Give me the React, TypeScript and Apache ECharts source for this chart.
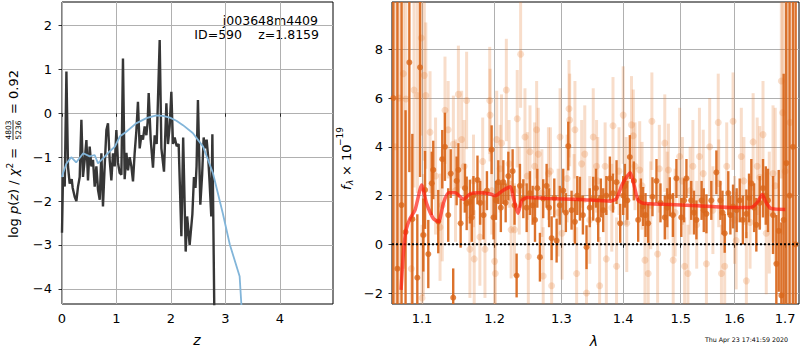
import React, { useEffect, useRef } from 'react';
import * as echarts from 'echarts';

// ---------- tick labels ----------
const zTicks = [0, 1, 2, 3, 4];
const logpTicks = [-4, -3, -2, -1, 0, 1, 2];
const lamTicks = [1.1, 1.2, 1.3, 1.4, 1.5, 1.6, 1.7];
const fluxTicks = [-2, 0, 2, 4, 6, 8];

// ---------- left panel: [z, log p(z)] ----------
const pzCurve = [
  [0.0, -2.72], [0.018, -1.45], [0.05, -1.67], [0.081, 0.95], [0.11, -1.21], [0.141, -1.6],
  [0.178, -1.5], [0.196, -1.7], [0.233, -1.9], [0.264, -2.0], [0.294, -1.67], [0.325, -1.45],
  [0.356, -0.15], [0.385, -1.45], [0.417, -1.06], [0.448, -0.61], [0.477, -1.53], [0.508, -0.76],
  [0.539, -1.21], [0.569, -1.06], [0.6, -1.67], [0.631, -1.21], [0.661, -1.74], [0.692, -1.97],
  [0.723, -0.91], [0.752, -2.12], [0.783, -1.21], [0.815, -0.38], [0.844, -0.23], [0.875, -1.06],
  [0.906, -1.53], [0.936, -0.91], [0.967, -1.21], [0.998, -0.38], [1.028, -1.13], [1.059, -1.36],
  [1.09, -1.4], [1.119, 1.25], [1.15, -1.5], [1.182, -0.9], [1.211, -1.3], [1.242, -1.0],
  [1.272, -1.2], [1.303, -1.55], [1.334, -0.9], [1.365, -0.4], [1.394, 0.26], [1.426, -0.8],
  [1.457, -0.5], [1.486, -0.6], [1.517, -0.3], [1.549, -0.5], [1.572, -0.2], [1.591, 0.46],
  [1.628, -0.6], [1.67, -1.24], [1.701, -0.5], [1.738, -0.7], [1.793, 1.67], [1.824, -0.8],
  [1.872, -1.33], [1.916, 0.23], [1.945, -0.7], [1.976, -0.3], [2.007, 0.49], [2.037, -0.7],
  [2.068, -0.55], [2.105, -0.75], [2.141, -0.7], [2.191, -2.8], [2.224, -0.55], [2.27, -3.15],
  [2.297, -2.35], [2.343, -3.0], [2.393, -2.3], [2.422, -1.45], [2.45, -1.7], [2.47, -1.2],
  [2.495, 0.3], [2.539, -2.08], [2.572, -1.4], [2.6, -0.55], [2.628, -0.8], [2.655, -0.6],
  [2.683, -1.0], [2.71, -1.6], [2.74, -2.35], [2.76, -0.48], [2.8, -5.0],
];

const priorCurve = [
  [0.0, -1.45], [0.02, -1.36], [0.08, -1.15], [0.17, -1.0], [0.26, -1.12], [0.39, -0.91],
  [0.51, -0.98], [0.6, -0.95], [0.66, -1.14], [0.75, -1.03], [0.875, -0.87], [0.97, -0.76],
  [1.06, -0.53], [1.18, -0.42], [1.36, -0.23], [1.55, -0.11], [1.73, -0.05], [1.85, -0.06],
  [1.98, -0.1], [2.1, -0.17], [2.22, -0.27], [2.4, -0.45], [2.59, -0.76], [2.77, -1.36],
  [2.95, -2.27], [3.08, -2.99], [3.26, -3.71], [3.29, -4.31], [3.32, -4.9],
];

// ---------- right panel: model [lambda, flux] ----------
const modelCurve = [
  [1.0727, -1.87], [1.0757, -0.37], [1.0791, 0.58], [1.0843, 1.06], [1.0908, 1.4], [1.0996, 2.43],
  [1.106, 1.68], [1.115, 1.06], [1.122, 0.92], [1.1285, 1.68], [1.1355, 2.11], [1.1448, 2.11],
  [1.156, 1.85], [1.165, 2.06], [1.179, 2.11], [1.194, 2.06], [1.201, 1.99], [1.211, 2.19],
  [1.223, 2.36], [1.227, 1.95], [1.234, 1.27], [1.24, 1.81], [1.248, 1.92], [1.2776, 1.88],
  [1.329, 1.84], [1.379, 1.77], [1.389, 1.88], [1.399, 2.49], [1.412, 2.93], [1.419, 2.36],
  [1.425, 1.81], [1.434, 1.68], [1.471, 1.64], [1.53, 1.58], [1.591, 1.51], [1.632, 1.51],
  [1.645, 1.74], [1.654, 2.04], [1.661, 1.74], [1.671, 1.47], [1.7005, 1.43],
];

// ---------- right panel: spectrum [lambda, flux, error] ----------
const darkPoints = [
  [1.0628, 6.0, 12], [1.068, -1.0, 11], [1.0733, 1.61, 9], [1.0785, 0.5, 5], [1.0834, 7.46, 4.5],
  [1.0873, 1.03, 3.5], [1.0938, -1.37, 2.6], [1.0974, 7.26, 4.5], [1.1017, 0.38, 1.5], [1.104, 2.23, 1.6],
  [1.1083, -0.4, 1.4], [1.1129, 2.5, 1.3], [1.1149, 3.05, 1.2], [1.1216, 0.93, 1.3], [1.127, 3.49, 1.2],
  [1.1306, 4.0, 1.4], [1.1351, 1.2, 1.1], [1.1385, 2.9, 1.0], [1.1419, -2.19, 1.2], [1.1466, 2.6, 1.0],
  [1.149, 3.05, 1.1], [1.1521, 0.86, 1.0], [1.1581, 2.3, 1.0], [1.1605, 1.68, 1.1], [1.165, 1.75, 0.9],
  [1.1676, 1.1, 1.0], [1.1699, 2.0, 0.8], [1.1756, 2.64, 1.0], [1.1794, 1.7, 0.9], [1.1842, 1.2, 1.0],
  [1.189, 2.2, 0.8], [1.1957, 3.88, 1.0], [1.1985, 1.1, 0.9], [1.202, 1.8, 0.8], [1.2053, 2.55, 0.9],
  [1.209, 1.5, 1.0], [1.2126, 2.55, 0.9], [1.216, 1.7, 0.8], [1.2199, 2.8, 1.0], [1.2262, 3.0, 0.9],
  [1.229, 1.6, 0.8], [1.2321, -1.28, 0.9], [1.237, 2.4, 0.9], [1.242, 1.87, 0.8], [1.247, 1.5, 1.0],
  [1.2519, 2.1, 0.9], [1.256, 1.6, 0.8], [1.2595, 1.0, 0.9], [1.263, 2.3, 0.8], [1.267, -0.53, 1.0],
  [1.272, 1.87, 0.8], [1.2772, 2.4, 0.9], [1.281, 1.5, 0.8], [1.2849, 0.25, 0.9], [1.289, 1.9, 0.8],
  [1.2926, 0.15, 0.9], [1.2975, 1.6, 0.8], [1.3029, 2.2, 0.9], [1.307, 1.3, 0.8], [1.3108, 4.03, 1.0],
  [1.316, 1.4, 0.8], [1.3213, 0.92, 0.9], [1.325, 2.0, 0.8], [1.3292, 1.87, 0.9], [1.334, 1.2, 0.8],
  [1.3398, -0.12, 0.9], [1.345, 1.5, 0.8], [1.3506, 1.87, 0.9], [1.355, 2.3, 0.8], [1.3587, 1.0, 0.9],
  [1.363, 1.9, 0.8], [1.3669, 1.4, 0.9], [1.372, 2.0, 0.8], [1.3778, 2.7, 0.9], [1.383, 2.1, 0.8],
  [1.3889, 2.55, 0.9], [1.395, 0.86, 0.8], [1.4, 2.0, 0.8], [1.4028, 2.4, 0.9], [1.407, 1.8, 0.8],
  [1.4112, 3.58, 0.9], [1.418, 2.6, 0.8], [1.4254, 1.0, 0.9], [1.43, 1.9, 0.8], [1.4339, 1.55, 0.8],
  [1.438, 1.2, 0.9], [1.4426, 0.86, 0.8], [1.45, 1.95, 0.8], [1.457, 2.6, 0.9], [1.464, 1.7, 0.8],
  [1.4716, 1.1, 0.9], [1.476, 1.5, 0.8], [1.4805, 1.95, 0.8], [1.486, 1.2, 0.9], [1.4923, 2.7, 0.8],
  [1.501, 1.1, 0.8], [1.506, 1.8, 0.9], [1.5103, 2.7, 0.8], [1.519, 1.8, 0.8], [1.524, 1.3, 0.9],
  [1.5285, 1.0, 0.8], [1.538, 1.8, 0.8], [1.542, 1.4, 0.9], [1.5469, 1.25, 0.8], [1.556, 1.8, 0.8],
  [1.5655, 2.95, 0.9], [1.573, 1.8, 0.8], [1.577, 1.3, 0.9], [1.5812, 0.45, 0.8], [1.588, 2.1, 0.9],
  [1.592, 1.2, 0.8], [1.5971, 1.55, 0.9], [1.604, 1.4, 0.9], [1.6099, 1.8, 0.9], [1.616, 1.0, 1.0],
  [1.6228, 1.25, 1.0], [1.628, 1.9, 1.0], [1.6325, 2.5, 1.0], [1.638, 1.5, 1.0], [1.6423, 0.8, 1.1],
  [1.649, 1.7, 1.1], [1.6555, 2.3, 1.2], [1.661, 2.0, 1.2], [1.6654, 1.8, 1.3], [1.6755, 1.2, 1.6],
  [1.6822, -0.8, 2.0], [1.687, 0.55, 2.5], [1.6923, -2.1, 3.0], [1.697, 1.0, 6], [1.7025, 3.33, 9],
  [1.709, 2.0, 12], [1.716, 4.0, 14], [1.7216, 0.0, 14],
];

const lightPoints = [
  [1.065, 4.0, 14], [1.07, 6.0, 12], [1.0757, 7.0, 8], [1.079, 5.96, 6], [1.086, -1.0, 5],
  [1.0895, 6.33, 4], [1.0939, 6.1, 4], [1.099, 8.46, 4], [1.1, -2.2, 3], [1.1018, 0.38, 2.5],
  [1.103, 6.93, 3.5], [1.105, 6.1, 3], [1.1106, 4.6, 2.5], [1.118, 2.8, 2.4], [1.124, 0.7, 2.2],
  [1.127, 1.6, 2.3], [1.1307, 5.5, 2.2], [1.135, 4.7, 2.0], [1.1421, 4.1, 2.0], [1.145, 2.2, 2.1],
  [1.149, 6.15, 2.0], [1.1535, 4.3, 2.0], [1.157, 3.2, 1.9], [1.1604, 5.9, 2.0], [1.165, -0.2, 2.0],
  [1.17, 2.6, 1.9], [1.171, -0.6, 2.0], [1.179, 0.3, 2.0], [1.183, 3.4, 1.8], [1.1862, -0.2, 2.0],
  [1.193, 5.9, 2.2], [1.1935, 5.3, 1.9], [1.196, 2.2, 1.8], [1.2, -0.7, 2.0], [1.201, -1.2, 2.1],
  [1.203, 4.3, 2.0], [1.208, 3.1, 1.8], [1.21, 4.15, 2.0], [1.217, 6.33, 2.1], [1.221, 3.3, 1.8],
  [1.224, 0.6, 2.0], [1.229, 0.6, 1.9], [1.233, 5.15, 2.0], [1.236, 2.2, 1.8], [1.238, 7.8, 2.2],
  [1.2445, 4.4, 2.0], [1.248, 2.8, 1.8], [1.2495, -0.5, 2.0], [1.252, 3.8, 1.9], [1.259, 3.2, 1.8],
  [1.262, 4.7, 2.0], [1.2645, 3.7, 1.9], [1.27, 2.1, 1.8], [1.272, -1.3, 2.0], [1.28, 2.9, 1.9],
  [1.283, 3.0, 1.8], [1.2849, -1.7, 2.0], [1.295, 1.3, 1.8], [1.298, 4.4, 2.0], [1.301, 0.45, 1.9],
  [1.309, 2.7, 1.8], [1.312, 5.56, 2.0], [1.313, 5.1, 1.9], [1.32, 1.9, 1.8], [1.3213, 4.7, 2.0],
  [1.324, -1.2, 1.9], [1.332, 3.3, 1.8], [1.337, 3.7, 2.0], [1.3398, -2.0, 2.0], [1.345, 1.0, 1.8],
  [1.3506, 4.4, 2.0], [1.356, 3.2, 1.9], [1.358, 2.6, 1.8], [1.361, -1.7, 2.0], [1.37, 3.2, 1.8],
  [1.372, -0.6, 2.0], [1.381, 1.5, 1.8], [1.383, 4.86, 2.0], [1.3889, -0.9, 2.0], [1.393, 3.0, 1.8],
  [1.4, 5.3, 2.0], [1.405, 2.6, 1.8], [1.406, 0.86, 2.0], [1.414, 4.9, 2.0], [1.417, 4.45, 1.9],
  [1.42, 3.2, 1.8], [1.428, 3.05, 2.0], [1.432, 2.4, 1.8], [1.437, -0.65, 2.0], [1.4426, -1.2, 2.0],
  [1.447, 1.6, 1.8], [1.449, 5.05, 2.0], [1.459, -0.4, 2.0], [1.462, 3.1, 1.8], [1.4716, 4.15, 2.0],
  [1.476, 2.0, 1.8], [1.478, 3.05, 1.9], [1.4865, -0.65, 2.0], [1.49, 1.3, 1.8], [1.498, 3.6, 2.0],
  [1.503, 2.6, 1.8], [1.507, -0.9, 2.0], [1.513, -1.2, 2.0], [1.517, 2.2, 1.8], [1.522, 3.2, 1.9],
  [1.529, 0.8, 1.8], [1.534, 3.6, 2.0], [1.541, 2.9, 1.8], [1.5469, -0.8, 2.0], [1.553, 4.0, 2.0],
  [1.559, 1.4, 1.8], [1.569, 5.0, 2.0], [1.57, 2.5, 1.8], [1.575, -1.2, 2.0], [1.5812, -0.9, 2.0],
  [1.585, 3.2, 1.8], [1.5971, 5.05, 2.0], [1.6, 1.0, 1.8], [1.603, 0.15, 2.0], [1.613, 3.6, 2.0],
  [1.618, 2.6, 1.8], [1.6228, -1.5, 2.0], [1.63, 0.9, 1.9], [1.636, 4.2, 2.0], [1.644, 3.2, 2.0],
  [1.649, 2.75, 2.1], [1.6555, 4.5, 2.2], [1.662, 0.45, 2.5], [1.668, 1.3, 2.5], [1.6755, 2.9, 2.8],
  [1.68, 2.4, 3.2], [1.6923, 6.7, 4], [1.695, 5.4, 5], [1.7, 3.0, 8], [1.71, 5.0, 12],
];

const FONT = "'DejaVu Sans', sans-serif";
const ORANGE = '#d9661a';

const fmtMinus = (v: number) => (v < 0 ? '\u2212' + Math.abs(v) : String(v));

function errorBarSeries(points: number[][], color: string, width: number, z: number) {
  return {
    type: 'custom',
    xAxisIndex: 1,
    yAxisIndex: 1,
    clip: true,
    z,
    silent: true,
    encode: { x: 0, y: 1 },
    data: points.map((p) => [Math.log(p[0]), p[1], p[2]]),
    renderItem: (params: any, api: any) => {
      const x = api.value(0);
      const y = api.value(1);
      const e = api.value(2);
      const a = api.coord([x, y - e]);
      const b = api.coord([x, y + e]);
      return {
        type: 'line',
        shape: { x1: a[0], y1: a[1], x2: b[0], y2: b[1] },
        style: { stroke: color, lineWidth: width },
      };
    },
  };
}

export default function App() {
  const ref = useRef<HTMLDivElement>(null);
  useEffect(() => {
    if (!ref.current) return;
    const chart = echarts.init(ref.current, undefined, { renderer: 'svg' });
    const lamMin = Math.log(1.0611);
    const lamMax = Math.log(1.7285);
    const gridStyle = { show: true, lineStyle: { color: '#b0b0b0', width: 1 } };
    const tickStyle = (vals: number[]) => ({
      show: true,
      inside: false,
      length: 3.5,
      lineStyle: { color: '#000', width: 0.8 },
      customValues: vals,
    });
    const labelStyle = (vals: number[], fmt: (v: number) => string, margin: number) => ({
      customValues: vals,
      color: '#000',
      fontSize: 13,
      fontFamily: FONT,
      margin,
      formatter: fmt,
    });

    const option: any = {
      animation: false,
      grid: [
        { left: 62, top: 2, width: 271, height: 302, show: true, borderColor: '#000', borderWidth: 1, backgroundColor: 'transparent', containLabel: false, outerBoundsMode: 'none' },
        { left: 392, top: 2, width: 407, height: 302, show: true, borderColor: '#000', borderWidth: 1, backgroundColor: 'transparent', containLabel: false, outerBoundsMode: 'none' },
      ],
      xAxis: [
        {
          gridIndex: 0, type: 'value', min: 0, max: 4.974,
          axisLine: { show: false }, axisTick: tickStyle(zTicks),
          axisLabel: labelStyle(zTicks, fmtMinus, 8), splitLine: gridStyle,
        },
        {
          gridIndex: 1, type: 'value', min: lamMin, max: lamMax,
          axisLine: { show: false }, axisTick: tickStyle(lamTicks.map(Math.log)),
          axisLabel: labelStyle(lamTicks.map(Math.log), (v: number) => Math.exp(v).toFixed(1), 8),
          splitLine: gridStyle,
        },
      ],
      yAxis: [
        {
          gridIndex: 0, type: 'value', min: -4.344, max: 2.535,
          axisLine: { show: false }, axisTick: tickStyle(logpTicks),
          axisLabel: labelStyle(logpTicks, fmtMinus, 10), splitLine: gridStyle,
        },
        {
          gridIndex: 1, type: 'value', min: -2.45, max: 9.94,
          axisLine: { show: false }, axisTick: tickStyle(fluxTicks),
          axisLabel: labelStyle(fluxTicks, fmtMinus, 9), splitLine: gridStyle,
        },
      ],
      series: [
        {
          type: 'line', xAxisIndex: 0, yAxisIndex: 0, data: pzCurve, symbol: 'none',
          lineStyle: { color: '#363636', width: 2.4 }, clip: true, z: 2, silent: true,
        },
        {
          type: 'line', xAxisIndex: 0, yAxisIndex: 0, data: priorCurve, symbol: 'none',
          lineStyle: { color: '#82b5d9', width: 1.8 }, clip: true, z: 3, silent: true,
        },
        errorBarSeries(lightPoints, 'rgba(228,120,45,0.25)', 3, 2),
        {
          type: 'scatter', xAxisIndex: 1, yAxisIndex: 1, clip: true, z: 3, silent: true,
          data: lightPoints.map((p) => [Math.log(p[0]), p[1]]),
          symbolSize: 7, itemStyle: { color: 'rgba(228,120,45,0.3)' },
        },
        errorBarSeries(darkPoints, 'rgba(217,102,26,0.92)', 2.4, 4),
        {
          type: 'scatter', xAxisIndex: 1, yAxisIndex: 1, clip: true, z: 5, silent: true,
          data: darkPoints.map((p) => [Math.log(p[0]), p[1]]),
          symbolSize: 6, itemStyle: { color: ORANGE },
        },
        {
          type: 'line', xAxisIndex: 1, yAxisIndex: 1, symbol: 'none', z: 6, silent: true,
          data: [[lamMin, 0], [lamMax, 0]],
          lineStyle: { color: '#000', width: 2, type: [2, 2] },
        },
        {
          type: 'line', xAxisIndex: 1, yAxisIndex: 1, symbol: 'none', z: 7, silent: true, clip: true,
          data: modelCurve.map((p) => [Math.log(p[0]), p[1]]), smooth: 0.2,
          lineStyle: { color: 'rgba(255,25,15,0.68)', width: 3.5 },
        },
      ],
      graphic: [
        { type: 'text', x: 318, y: 20, style: { text: 'j003648m4409', fontSize: 12.5, fontFamily: FONT, fill: '#000', textAlign: 'right', textVerticalAlign: 'middle' } },
        { type: 'text', x: 242, y: 34, style: { text: 'ID=590', fontSize: 12.5, fontFamily: FONT, fill: '#000', textAlign: 'right', textVerticalAlign: 'middle' } },
        { type: 'text', x: 319, y: 34, style: { text: 'z=1.8159', fontSize: 12.5, fontFamily: FONT, fill: '#000', textAlign: 'right', textVerticalAlign: 'middle' } },
        { type: 'text', x: 197, y: 340, style: { text: 'z', fontSize: 14, fontStyle: 'italic', fontFamily: FONT, fill: '#000', textAlign: 'center', textVerticalAlign: 'middle' } },
        { type: 'text', x: 594, y: 341, style: { text: 'λ', fontSize: 14, fontStyle: 'italic', fontFamily: FONT, fill: '#000', textAlign: 'center', textVerticalAlign: 'middle' } },
        { type: 'text', x: 788, y: 339, style: { text: 'Thu Apr 23 17:41:59 2020', fontSize: 6.3, fontFamily: FONT, fill: '#000', textAlign: 'right', textVerticalAlign: 'middle' } },
        {
          type: 'group', x: 13, y: 238, rotation: Math.PI / 2,
          children: [
            {
              type: 'text', x: 0, y: 0,
              style: {
                text: '{n|log }{i|p}{n|(}{i|z}{n|) / }{i|χ}{s|2}{n| =}',
                rich: {
                  n: { fontSize: 13, fontFamily: FONT, fill: '#000' },
                  i: { fontSize: 13, fontFamily: FONT, fontStyle: 'italic', fill: '#000' },
                  s: { fontSize: 9, fontFamily: FONT, fill: '#000', padding: [0, 0, 7, 0] },
                },
                textAlign: 'left', textVerticalAlign: 'middle',
              },
            },
            { type: 'text', x: 108, y: -5, style: { text: '4803', fontSize: 7.5, fontFamily: FONT, fill: '#000', textAlign: 'center', textVerticalAlign: 'middle' } },
            { type: 'line', shape: { x1: 98, y1: 0, x2: 118, y2: 0 }, style: { stroke: '#000', lineWidth: 0.8 } },
            { type: 'text', x: 108, y: 5, style: { text: '5236', fontSize: 7.5, fontFamily: FONT, fill: '#000', textAlign: 'center', textVerticalAlign: 'middle' } },
            { type: 'text', x: 124, y: 0, style: { text: '= 0.92', fontSize: 13, fontFamily: FONT, fill: '#000', textAlign: 'left', textVerticalAlign: 'middle' } },
          ],
        },
        {
          type: 'group', x: 346, y: 190, rotation: Math.PI / 2,
          children: [
            { type: 'text', x: 0, y: 0, style: { text: 'f', fontSize: 13, fontStyle: 'italic', fontFamily: FONT, fill: '#000', textAlign: 'left', textVerticalAlign: 'middle' } },
            { type: 'text', x: 5, y: 4, style: { text: 'λ', fontSize: 9, fontStyle: 'italic', fontFamily: FONT, fill: '#000', textAlign: 'left', textVerticalAlign: 'middle' } },
            { type: 'text', x: 14, y: 0, style: { text: '× 10', fontSize: 13, fontFamily: FONT, fill: '#000', textAlign: 'left', textVerticalAlign: 'middle' } },
            { type: 'text', x: 44, y: -6, style: { text: '\u221219', fontSize: 9, fontFamily: FONT, fill: '#000', textAlign: 'left', textVerticalAlign: 'middle' } },
          ],
        },
      ],
    };
    chart.setOption(option);
    return () => chart.dispose();
  }, []);
  return <div ref={ref} style={{ position: 'absolute', left: 0, top: 0, width: 800, height: 350 }} />;
}
